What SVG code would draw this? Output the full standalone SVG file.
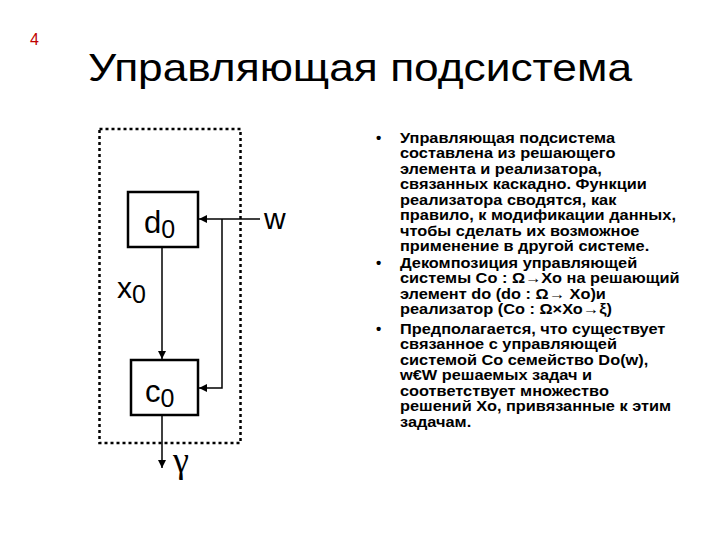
<svg xmlns="http://www.w3.org/2000/svg" width="720" height="540" viewBox="0 0 720 540">
<defs>
<marker id="ah" viewBox="0 0 10 10" refX="10" refY="5" markerWidth="8" markerHeight="8" markerUnits="userSpaceOnUse" orient="auto">
<path d="M0,0 L10,5 L0,10 z" fill="#000"/>
</marker>
<style>
.lbl{font-family:"Liberation Sans",Arial,sans-serif;fill:#000}
.box{fill:#fff;stroke:#000;stroke-width:2.5}
.ln{fill:none;stroke:#000;stroke-width:1.5}
.bt{font-family:"Liberation Sans",Arial,sans-serif;font-weight:bold;font-size:15px;fill:#000}
</style>
</defs>
<rect width="720" height="540" fill="#fff"/>
<text x="30" y="45" font-family="Liberation Sans, Arial, sans-serif" font-size="16" fill="#c00000">4</text>
<text x="88" y="81" class="lbl" font-size="39" textLength="544" lengthAdjust="spacingAndGlyphs">Управляющая подсистема</text>
<rect id="boundary" x="99.5" y="129" width="141" height="314" fill="none" stroke="#000" stroke-width="2.5" stroke-dasharray="3,3"/>
<g id="connectors">
<line class="ln" x1="162" y1="247" x2="162" y2="359" marker-end="url(#ah)"/>
<line class="ln" x1="260" y1="219" x2="199" y2="219" marker-end="url(#ah)"/>
<polyline class="ln" points="222,219 222,388 199,388" marker-end="url(#ah)"/>
<line class="ln" x1="162" y1="415" x2="162" y2="468" marker-end="url(#ah)"/>
</g>
<g id="d0">
<rect class="box" x="128" y="192" width="70" height="55"/>
<text x="144" y="233" class="lbl" font-size="31">d<tspan font-size="25" dy="5">0</tspan></text>
</g>
<g id="c0">
<rect class="box" x="131" y="360" width="67" height="55"/>
<text x="145" y="402" class="lbl" font-size="31">c<tspan font-size="25" dy="5">0</tspan></text>
</g>
<g id="x0"><text x="117" y="298" class="lbl" font-size="30">x<tspan font-size="25" dy="5">0</tspan></text></g>
<g id="w"><text x="264" y="229" class="lbl" font-size="30">w</text></g>
<g id="gamma"><text x="173" y="472" font-family="Liberation Serif, Times New Roman, serif" font-size="36" fill="#000">γ</text></g>
<g id="bullets">
<text x="376" y="143" class="bt">•</text>
<text x="376" y="268" class="bt">•</text>
<text x="376" y="334" class="bt">•</text>
<text class="bt" transform="translate(400,0) scale(1.09,1) translate(-400,0)">
<tspan x="400" y="143">Управляющая подсистема</tspan>
<tspan x="400" y="158.5">составлена из решающего</tspan>
<tspan x="400" y="174">элемента и реализатора,</tspan>
<tspan x="400" y="189.5">связанных каскадно. Функции</tspan>
<tspan x="400" y="205">реализатора сводятся, как</tspan>
<tspan x="400" y="220.5">правило, к модификации данных,</tspan>
<tspan x="400" y="236">чтобы сделать их возможное</tspan>
<tspan x="400" y="251.5">применение в другой системе.</tspan>
<tspan x="400" y="268">Декомпозиция управляющей</tspan>
<tspan x="400" y="283.5">системы Со : Ω→Хо на решающий</tspan>
<tspan x="400" y="299">элемент do (do : Ω→ Xo)и</tspan>
<tspan x="400" y="314.5">реализатор (Со : Ω×Хо→ξ)</tspan>
<tspan x="400" y="334">Предполагается, что существует</tspan>
<tspan x="400" y="349.5">связанное с управляющей</tspan>
<tspan x="400" y="365">системой Со семейство Do(w),</tspan>
<tspan x="400" y="380.5">w€W решаемых задач и</tspan>
<tspan x="400" y="396">соответствует множество</tspan>
<tspan x="400" y="411.5">решений Хо, привязанные к этим</tspan>
<tspan x="400" y="427">задачам.</tspan>
</text>
</g>
</svg>
